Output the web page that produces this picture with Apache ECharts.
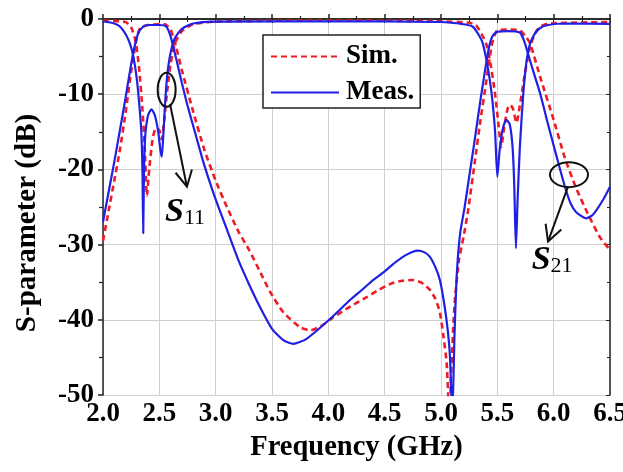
<!DOCTYPE html>
<html>
<head>
<meta charset="utf-8">
<script src="https://cdn.jsdelivr.net/npm/echarts@6/dist/echarts.min.js"></script>
<style>
html,body{margin:0;padding:0;background:#fff;}
#c{width:623px;height:472px;}
</style>
</head>
<body>
<div id="c"></div>
<script>
// ---- data (frequency GHz, dB) ----
const xTicks = [2.0, 2.5, 3.0, 3.5, 4.0, 4.5, 5.0, 5.5, 6.0, 6.5];
const yTicks = [0, -10, -20, -30, -40, -50];
const legendNames = ['Sim.', 'Meas.'];

const simS11 = [[2.0,-0.2],[2.2,-0.4],[2.25,-1.1],[2.29,-3],[2.32,-6.5],[2.35,-12],[2.37,-17],[2.39,-23.5],[2.41,-20],[2.44,-16],[2.47,-14.5],[2.5,-14.8],[2.52,-16],[2.54,-14],[2.57,-9.5],[2.6,-6],[2.64,-3.2],[2.7,-1.6],[2.8,-0.7],[3.0,-0.35],[4.0,-0.2],[5.0,-0.3],[5.25,-0.5],[5.31,-0.8],[5.36,-2],[5.4,-3.2],[5.44,-6],[5.48,-10],[5.51,-14],[5.535,-17],[5.56,-14.5],[5.59,-12],[5.615,-11.4],[5.64,-12],[5.67,-13.8],[5.7,-11.5],[5.74,-7.7],[5.79,-3.7],[5.84,-1.8],[5.88,-1.0],[5.95,-0.6],[6.5,-0.4]];

const measS11 = [[2.0,-0.3],[2.1,-0.6],[2.15,-1.0],[2.2,-2.0],[2.24,-3.3],[2.27,-5],[2.3,-8],[2.32,-11],[2.34,-15],[2.35,-20],[2.357,-28.5],[2.364,-20],[2.375,-15.5],[2.4,-12.8],[2.43,-12],[2.46,-12.8],[2.49,-15],[2.51,-17.5],[2.522,-18.3],[2.535,-15.5],[2.55,-11.5],[2.57,-7.5],[2.6,-4.5],[2.64,-2.5],[2.7,-1.3],[2.8,-0.6],[3.0,-0.35],[4.0,-0.3],[5.0,-0.4],[5.2,-0.7],[5.28,-1.0],[5.33,-2.0],[5.37,-3.2],[5.41,-6],[5.45,-10],[5.48,-15],[5.5,-21],[5.52,-17.5],[5.55,-14.5],[5.58,-13.4],[5.61,-14],[5.635,-17],[5.65,-22],[5.665,-30.5],[5.68,-24],[5.7,-17],[5.73,-10],[5.76,-5.5],[5.79,-3.3],[5.83,-2.0],[5.88,-1.2],[5.95,-0.8],[6.1,-0.6],[6.5,-0.65]];

const simS21 = [[2.0,-29.5],[2.05,-25.5],[2.1,-21.5],[2.15,-17.4],[2.2,-12.5],[2.25,-7],[2.3,-2.5],[2.33,-1.2],[2.4,-0.8],[2.55,-0.7],[2.6,-1.4],[2.65,-3.8],[2.7,-6.8],[2.8,-12.3],[2.9,-17.4],[3.0,-21.5],[3.1,-25],[3.2,-28.2],[3.3,-30.8],[3.4,-33.8],[3.48,-36.2],[3.6,-39],[3.75,-41],[3.84,-41.4],[3.95,-40.7],[4.04,-39.7],[4.2,-38.2],[4.34,-37],[4.45,-36],[4.57,-35.1],[4.66,-34.8],[4.75,-34.7],[4.83,-35.1],[4.9,-36],[4.95,-37.2],[4.99,-39],[5.02,-42],[5.05,-45.7],[5.075,-53],[5.09,-47],[5.12,-38],[5.16,-32],[5.2,-29],[5.24,-25.5],[5.3,-19],[5.35,-13.5],[5.4,-8.5],[5.45,-3.5],[5.48,-2],[5.5,-1.5],[5.6,-1.4],[5.7,-1.5],[5.75,-2.3],[5.79,-3.2],[5.88,-7.7],[6.0,-13.4],[6.1,-18.5],[6.2,-22.5],[6.3,-25.8],[6.41,-29],[6.5,-30.7]];

const measS21 = [[2.0,-27],[2.05,-23],[2.1,-19],[2.15,-14.8],[2.2,-10.5],[2.25,-6],[2.28,-3.7],[2.31,-2],[2.35,-1.1],[2.4,-0.8],[2.5,-0.8],[2.56,-1.0],[2.6,-2.3],[2.65,-5.3],[2.7,-8.5],[2.75,-11.5],[2.8,-14.2],[2.86,-17.4],[2.9,-19.5],[3.0,-24],[3.1,-28],[3.2,-32],[3.3,-35.4],[3.4,-38.5],[3.5,-41.2],[3.6,-42.7],[3.69,-43.2],[3.8,-42.6],[3.9,-41.4],[4.0,-40.1],[4.1,-38.7],[4.19,-37.4],[4.3,-36],[4.4,-34.7],[4.48,-33.8],[4.6,-32.3],[4.7,-31.3],[4.79,-30.8],[4.85,-31],[4.9,-31.6],[4.95,-33],[4.99,-34.7],[5.03,-38],[5.06,-41.4],[5.08,-45],[5.1,-53],[5.12,-42],[5.14,-34],[5.17,-28.5],[5.21,-25],[5.25,-21],[5.3,-16],[5.35,-10.8],[5.4,-6],[5.43,-3.5],[5.46,-2.2],[5.5,-1.7],[5.6,-1.6],[5.7,-1.8],[5.74,-3],[5.77,-4.5],[5.82,-7],[5.88,-9.9],[5.95,-14],[6.03,-18.5],[6.1,-22.3],[6.15,-24.5],[6.2,-25.7],[6.29,-26.5],[6.35,-26],[6.44,-24],[6.5,-22.3]];

// annotation anchors in data coordinates
const s11Ellipse = [2.565, -9.4];
const s11Arrow = [[2.595, -11.3], [2.745, -22.3]];
const s11Label = [2.55, -27.9];
const s21Ellipse = [6.136, -20.7];
const s21Arrow = [[6.127, -22.3], [5.95, -29.6]];
const s21Label = [5.805, -34.3];

const FONT = '"Liberation Serif","Times New Roman",serif';
const RED = '#ee1c24';
const BLUE = '#1f1fe6';

const chart = echarts.init(document.getElementById('c'), null, {renderer: 'canvas'});

const baseAxisLine = {show: true, lineStyle: {color: '#222', width: 1.5}};
const labelStyle = {color: '#000', fontFamily: FONT, fontWeight: 'bold', fontSize: 27};

const option = {
  animation: false,
  backgroundColor: '#fff',
  grid: {left: 103, right: 13, top: 19, bottom: 77, containLabel: false, outerBoundsMode: 'none'},
  xAxis: [{
    type: 'value', min: 2.0, max: 6.5, interval: 0.5,
    position: 'bottom',
    name: 'Frequency (GHz)', nameLocation: 'middle', nameGap: 37,
    nameTextStyle: {color: '#000', fontFamily: FONT, fontWeight: 'bold', fontSize: 28.5},
    axisLine: baseAxisLine,
    axisTick: {show: true, inside: true, length: 5, lineStyle: {color: '#222', width: 1.5}},
    minorTick: {show: true, splitNumber: 2, length: 3, lineStyle: {color: '#222', width: 1.2}},
    axisLabel: Object.assign({margin: 6, hideOverlap: false, formatter: v => xTicks.indexOf(+v.toFixed(1)) >= 0 ? v.toFixed(1) : ''}, labelStyle),
    splitLine: {show: true, lineStyle: {color: '#cfcfcf', width: 1}}
  }, {
    type: 'value', min: 2.0, max: 6.5, interval: 0.5, position: 'top',
    axisLine: baseAxisLine,
    axisTick: {show: true, inside: true, length: 4, lineStyle: {color: '#222'}},
    minorTick: {show: true, splitNumber: 2, length: 3, lineStyle: {color: '#222'}},
    axisLabel: {show: false}, splitLine: {show: false}
  }],
  yAxis: [{
    type: 'value', min: -50, max: 0, interval: 10,
    position: 'left',
    name: 'S-parameter (dB)', nameLocation: 'middle', nameGap: 61, nameRotate: 90,
    nameTextStyle: {color: '#000', fontFamily: FONT, fontWeight: 'bold', fontSize: 29, padding: [0, 32, 0, 0]},
    axisLine: baseAxisLine,
    axisTick: {show: true, inside: false, length: 5, lineStyle: {color: '#222', width: 1.5}},
    minorTick: {show: true, splitNumber: 2, length: 4, lineStyle: {color: '#222', width: 1.2}},
    axisLabel: Object.assign({margin: 9, formatter: v => yTicks.indexOf(v) >= 0 ? String(v) : ''}, labelStyle),
    splitLine: {show: true, lineStyle: {color: '#cfcfcf', width: 1}}
  }, {
    type: 'value', min: -50, max: 0, interval: 10, position: 'right',
    axisLine: baseAxisLine,
    axisTick: {show: true, inside: true, length: 4, lineStyle: {color: '#222'}},
    minorTick: {show: true, splitNumber: 2, length: 3, lineStyle: {color: '#222'}},
    axisLabel: {show: false}, splitLine: {show: false}
  }],
  legend: {
    data: legendNames,
    orient: 'vertical', left: 263, top: 35,
    itemWidth: 68, itemHeight: 14, itemGap: 9,
    padding: [8, 6, 2, 7],
    backgroundColor: '#fff', borderColor: '#222', borderWidth: 1.5, borderRadius: 0,
    itemStyle: {opacity: 0},
    textStyle: {color: '#000', fontFamily: FONT, fontWeight: 'bold', fontSize: 27, padding: [0, 0, 0, 2]}
  },
  series: [
    {name: 'Sim.', type: 'line', data: simS11, showSymbol: false, symbol: 'none', smooth: 0.2, z: 2,
     lineStyle: {color: RED, width: 2.6, type: [6, 4]}, itemStyle: {color: RED}},
    {name: 'Sim.', type: 'line', data: simS21, showSymbol: false, symbol: 'none', smooth: 0.2, z: 2,
     lineStyle: {color: RED, width: 2.6, type: [6, 4]}, itemStyle: {color: RED}},
    {name: 'Meas.', type: 'line', data: measS11, showSymbol: false, symbol: 'none', smooth: 0.2, z: 3,
     lineStyle: {color: BLUE, width: 2.2}, itemStyle: {color: BLUE}},
    {name: 'Meas.', type: 'line', data: measS21, showSymbol: false, symbol: 'none', smooth: 0.2, z: 3,
     lineStyle: {color: BLUE, width: 2.2}, itemStyle: {color: BLUE}}
  ]
};
chart.setOption(option);

function px(p) { return chart.convertToPixel({gridIndex: 0}, p); }
function arrow(a, b) {
  const s = px(a), t = px(b);
  const dx = t[0] - s[0], dy = t[1] - s[1];
  const ang = Math.atan2(dy, dx);
  const L = 18, spread = Math.PI / 6.5;
  const l = [t[0] - L * Math.cos(ang - spread), t[1] - L * Math.sin(ang - spread)];
  const r = [t[0] - L * Math.cos(ang + spread), t[1] - L * Math.sin(ang + spread)];
  return [
    {type: 'polyline', shape: {points: [s, t]}, style: {stroke: '#111', lineWidth: 2, fill: null}, z: 10},
    {type: 'polyline', shape: {points: [l, t, r]}, style: {stroke: '#111', lineWidth: 2, fill: null}, z: 10}
  ];
}
function label(p, sub) {
  const q = px(p);
  return {
    type: 'text', x: q[0], y: q[1], z: 10,
    style: {
      text: '{s|S}{n|' + sub + '}',
      align: 'left', verticalAlign: 'bottom',
      rich: {
        s: {fontFamily: FONT, fontStyle: 'italic', fontWeight: 'bold', fontSize: 34, fill: '#000', lineHeight: 34, verticalAlign: 'bottom'},
        n: {fontFamily: FONT, fontWeight: 'normal', fontSize: 22, fill: '#000', lineHeight: 28, verticalAlign: 'bottom'}
      }
    }
  };
}
const e1 = px(s11Ellipse), e2 = px(s21Ellipse);
const graphics = [
  {type: 'ellipse', shape: {cx: e1[0], cy: e1[1], rx: 9, ry: 17}, style: {stroke: '#111', lineWidth: 2, fill: null}, z: 10},
  {type: 'ellipse', shape: {cx: e2[0], cy: e2[1], rx: 19, ry: 12.5}, style: {stroke: '#111', lineWidth: 2, fill: null}, z: 10}
].concat(arrow(s11Arrow[0], s11Arrow[1]), arrow(s21Arrow[0], s21Arrow[1]), [label(s11Label, '11'), label(s21Label, '21')]);
chart.setOption({graphic: graphics});
</script>
</body>
</html>
